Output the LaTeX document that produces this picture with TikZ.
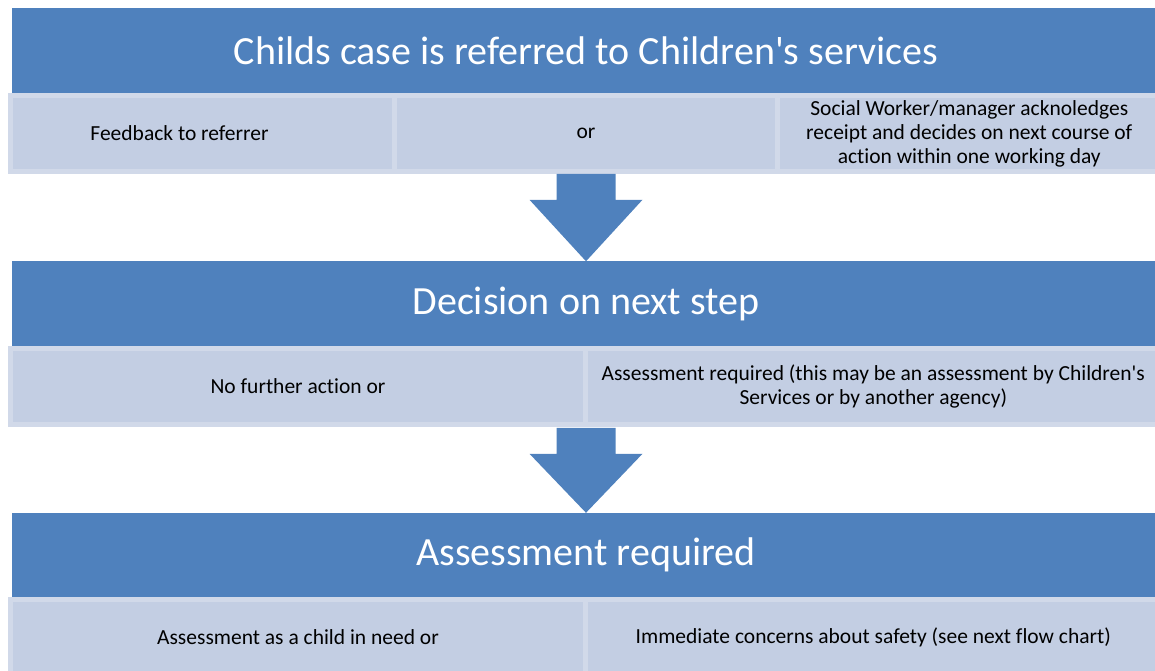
\documentclass[tikz,border=0pt]{standalone}
\usepackage{fontspec}
\setmainfont{Carlito}[Ligatures={NoCommon}]
\usetikzlibrary{positioning}
\definecolor{headblue}{HTML}{4F81BD}
\definecolor{cellfill}{HTML}{C3CEE3}
\definecolor{cellline}{HTML}{D1D9E9}

\begin{document}
\begin{tikzpicture}[x=1pt,y=1pt,
  header/.style={fill=headblue,text=white,minimum width=1148pt,minimum height=84.5pt,inner sep=0pt,font=\fontsize{40}{48}\selectfont},
  cell/.style={fill=cellfill,draw=cellline,line width=5pt,minimum height=76pt,inner sep=0pt,align=center,font=\fontsize{21.5}{24}\selectfont},
  blockarrow/.style={fill=headblue}]
  \useasboundingbox (0,0) rectangle (1155,671);
  \clip (0,0) rectangle (1155,671);
  % first stage
  \node[header] (h1) at (586,620.25) {Childs case is referred to Children\textquotesingle s services};
  \node[cell,minimum width=384pt] (c1a) at (202.5,537.5) {Feedback to referrer\hspace*{46pt}};
  \node[cell,minimum width=383pt] (c1b) at (586,537.5) {or};
  \node[cell,minimum width=383.5pt] (c1c) at (969.25,537.5) {Social Worker/manager acknoledges\\receipt and decides on next course of\\action within one working day};
  % second stage
  \node[header] (h2) at (586,367.25) {Decision on next step};
  \node[cell,minimum width=575pt] (c2a) at (298,284.5) {No further action or};
  \node[cell,minimum width=575.5pt] (c2b) at (873.25,284.5) {Assessment required (this may be an assessment by Children\textquotesingle s\\Services or by another agency)};
  % third stage
  \node[header] (h3) at (586,115.75) {Assessment required};
  \node[cell,minimum width=575pt] (c3a) at (298,33.5) {Assessment as a child in need or};
  \node[cell,minimum width=575.5pt] (c3b) at (873.25,33.5) {Immediate concerns about safety (see next flow chart)};
  % block arrows between the stages
  \fill[blockarrow] (h2.north) -- ++(-56.5,61.5) -- ++(27,0) -- ++(0,26) -- ++(59,0) -- ++(0,-26) -- ++(27,0) -- cycle;
  \fill[blockarrow] (h3.north) -- ++(-56.5,59) -- ++(27,0) -- ++(0,26) -- ++(59,0) -- ++(0,-26) -- ++(27,0) -- cycle;
\end{tikzpicture}
\end{document}
